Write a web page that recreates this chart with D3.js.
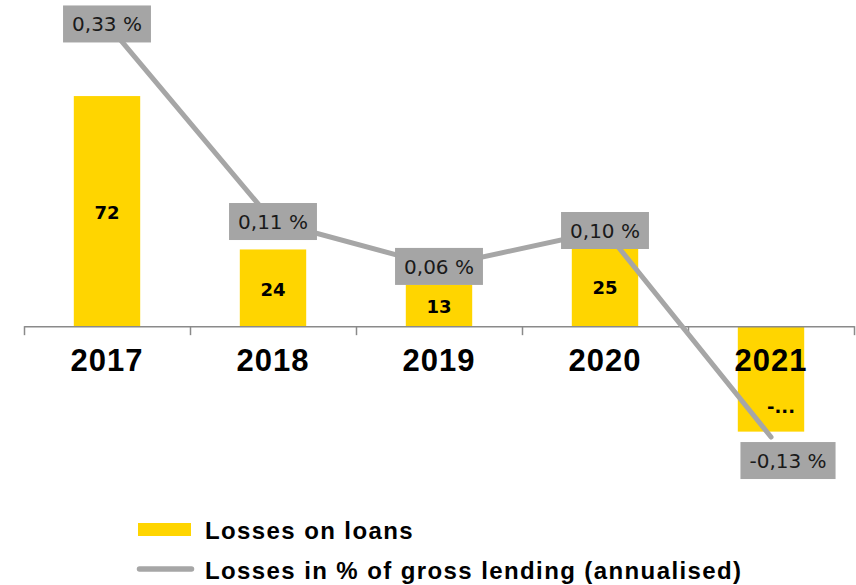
<!DOCTYPE html>
<html>
<head>
<meta charset="utf-8">
<script src="https://cdn.jsdelivr.net/npm/d3@7"></script>
<style>
  html, body { margin: 0; padding: 0; background: #ffffff; }
  svg { display: block; }
</style>
</head>
<body>
<svg id="chart" width="856" height="585"></svg>
<script>
// Loan losses per year (bars) and losses as % of gross lending (line)
const years = ["2017", "2018", "2019", "2020", "2021"];
const losses = [72, 24, 13, 25, -33];
const lossLabels = ["72", "24", "13", "25", "-..."];
const lossPct = [0.33, 0.11, 0.06, 0.10, -0.13];
const legendLabels = ["Losses on loans", "Losses in % of gross lending (annualised)"];

const BAR_COLOR = "#ffd500";
const LINE_COLOR = "#a6a6a6";
const AXIS_COLOR = "#8a8a8a";

const svg = d3.select("#chart");

const x = d3.scaleBand()
  .domain(years)
  .range([24, 854])
  .paddingInner(0.6)
  .paddingOuter(0.3);
const cx = d => x(d) + x.bandwidth() / 2;

const yBar = d3.scaleLinear().domain([-40, 80]).range([454, 70.5]);
const yPct = d3.scaleLinear().domain([-0.15, 0.35]).range([455, 6]);

// Decimal comma, plain hyphen minus
const locale = d3.formatLocale({
  decimal: ",", thousands: " ", grouping: [3], currency: ["", ""], minus: "-"
});
const fmtPct = v => locale.format(".2f")(v) + " %";

const rows = years.map((year, i) => ({
  year, value: losses[i], label: lossLabels[i], pct: lossPct[i]
}));

// Bars
svg.append("g").selectAll("rect")
  .data(rows)
  .join("rect")
  .attr("x", d => x(d.year))
  .attr("width", x.bandwidth())
  .attr("y", d => yBar(Math.max(0, d.value)))
  .attr("height", d => Math.abs(yBar(d.value) - yBar(0)))
  .attr("fill", BAR_COLOR);

// Bar value labels
svg.append("g").selectAll("text")
  .data(rows)
  .join("text")
  .attr("x", d => d.value >= 0 ? cx(d.year) : cx(d.year) + 10)
  .attr("y", d => d.value >= 0
      ? (yBar(d.value) + yBar(0)) / 2 + 8
      : yBar(d.value) - 19)
  .attr("text-anchor", "middle")
  .attr("font-family", "'DejaVu Sans', Verdana, sans-serif")
  .attr("font-weight", "bold")
  .attr("font-size", 18)
  .attr("fill", "#000")
  .text(d => d.label);

// Category axis: baseline with ticks on band edges
const xEdge = d3.scaleLinear().domain([0, years.length]).range(x.range());
const axisG = svg.append("g")
  .attr("transform", `translate(0,${yBar(0)})`)
  .call(d3.axisBottom(xEdge)
    .tickValues(d3.range(0, years.length + 1))
    .tickSize(9)
    .tickSizeOuter(0)
    .tickFormat(""));
axisG.selectAll("path, line")
  .attr("stroke", AXIS_COLOR)
  .attr("stroke-width", 1.5);

// Category labels
svg.append("g").selectAll("text")
  .data(years)
  .join("text")
  .attr("x", d => cx(d))
  .attr("y", yBar(0) + 45)
  .attr("text-anchor", "middle")
  .attr("font-family", "'Liberation Sans', Arial, sans-serif")
  .attr("font-weight", "bold")
  .attr("font-size", 31)
  .attr("letter-spacing", "1px")
  .attr("fill", "#000")
  .text(d => d);

// Percentage line
const line = d3.line()
  .x(d => cx(d.year))
  .y(d => yPct(d.pct));
svg.append("path")
  .datum(rows)
  .attr("d", line)
  .attr("fill", "none")
  .attr("stroke", LINE_COLOR)
  .attr("stroke-width", 5)
  .attr("stroke-linecap", "round")
  .attr("stroke-linejoin", "round");

// Percentage labels in grey boxes
const pctG = svg.append("g").selectAll("g")
  .data(rows)
  .join("g");
pctG.each(function (d) {
  const g = d3.select(this);
  const px = cx(d.year), py = yPct(d.pct);
  const txt = g.append("text")
    .attr("text-anchor", "middle")
    .attr("font-family", "'DejaVu Sans', Verdana, sans-serif")
    .attr("font-size", 20)
    .attr("fill", "#1a1a1a")
    .text(fmtPct(d.pct));
  const tw = txt.node().getComputedTextLength();
  const bw = tw + 18, bh = 37;
  // negative values sit below their point, others centred on it
  const bx = d.pct >= 0 ? px : px + 17;
  const by = d.pct >= 0 ? py : py + 5 + bh / 2;
  g.insert("rect", "text")
    .attr("x", bx - bw / 2)
    .attr("y", by - bh / 2)
    .attr("width", bw)
    .attr("height", bh)
    .attr("fill", "#a5a5a5");
  txt.attr("x", bx).attr("y", by + 7.5);
});

// Legend
const legend = svg.append("g")
  .attr("font-family", "'Liberation Sans', Arial, sans-serif")
  .attr("font-weight", "bold")
  .attr("font-size", 24)
  .attr("letter-spacing", "1.4px")
  .attr("fill", "#000");
legend.append("rect")
  .attr("x", 138).attr("y", 523)
  .attr("width", 53).attr("height", 13)
  .attr("fill", BAR_COLOR);
legend.append("text")
  .attr("x", 205).attr("y", 539)
  .text(legendLabels[0]);
legend.append("line")
  .attr("x1", 139.5).attr("x2", 191.5)
  .attr("y1", 569).attr("y2", 569)
  .attr("stroke", LINE_COLOR)
  .attr("stroke-width", 5.5)
  .attr("stroke-linecap", "round");
legend.append("text")
  .attr("x", 205).attr("y", 579)
  .text(legendLabels[1]);
</script>
</body>
</html>
